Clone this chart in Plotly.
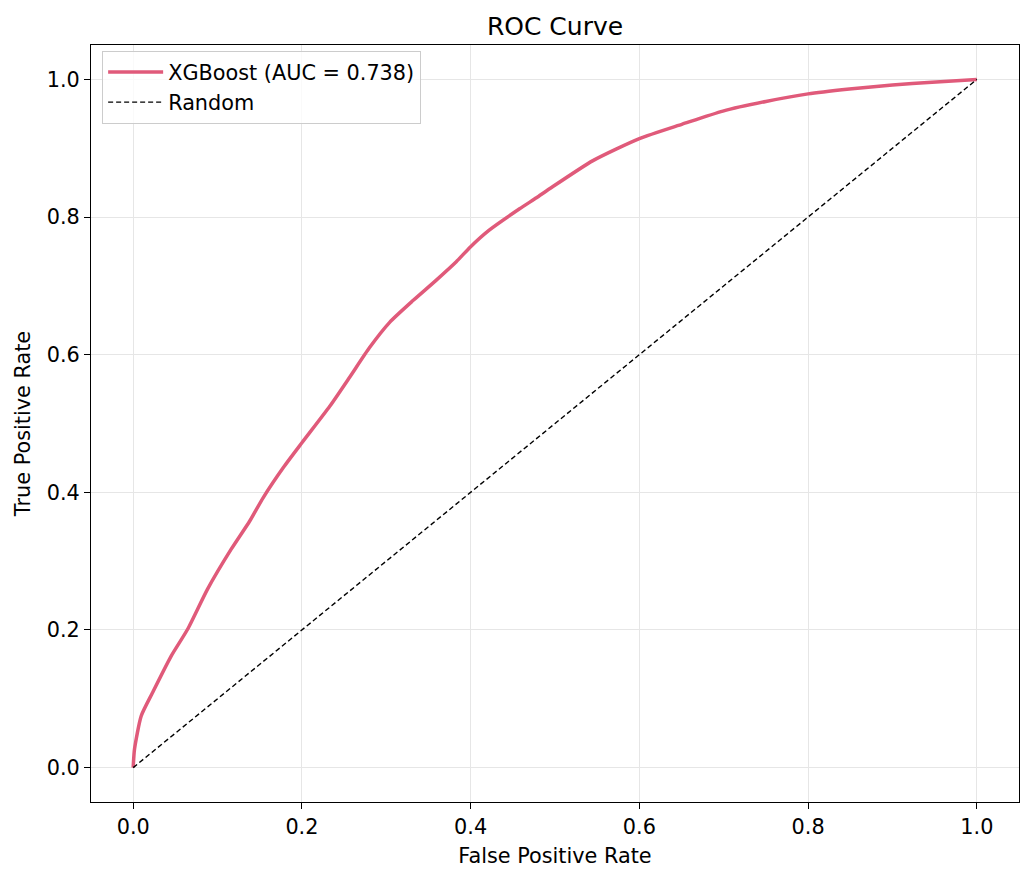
import plotly.graph_objects as go

# ROC curve points
fpr = [0.0, 0.0016, 0.0095, 0.023, 0.045, 0.0645, 0.088, 0.116, 0.138, 0.154, 0.178,
       0.2, 0.233, 0.257, 0.280, 0.304, 0.332, 0.359, 0.383, 0.4, 0.422, 0.458, 0.478,
       0.4935, 0.545, 0.6, 0.651, 0.699, 0.750, 0.8, 0.849, 0.9, 0.947, 1.0]
tpr = [0.0, 0.027, 0.075, 0.109, 0.162, 0.201, 0.259, 0.317, 0.358, 0.392, 0.436,
       0.472, 0.525, 0.568, 0.610, 0.647, 0.679, 0.708, 0.735, 0.757, 0.781, 0.812, 0.828,
       0.841, 0.882, 0.914, 0.935, 0.954, 0.968, 0.979, 0.986, 0.992, 0.996, 1.0]
random_x = [0.0, 1.0]
random_y = [0.0, 1.0]
auc_label = "XGBoost (AUC = 0.738)"
ticks = [0.0, 0.2, 0.4, 0.6, 0.8, 1.0]
tick_text = ["0.0", "0.2", "0.4", "0.6", "0.8", "1.0"]

fig = go.Figure()
fig.add_trace(go.Scatter(x=fpr, y=tpr, mode="lines", name=auc_label,
                         line=dict(color="#e05a7a", width=3.5, shape="spline", smoothing=0.6)))
fig.add_trace(go.Scatter(x=random_x, y=random_y, mode="lines", name="Random",
                         line=dict(color="black", width=1.4, dash="5px,3px")))

axis_common = dict(
    range=[-0.05, 1.05], tickvals=ticks, ticktext=tick_text,
    showgrid=True, gridcolor="#e6e6e6", gridwidth=1,
    zeroline=False, showline=True, linecolor="black", linewidth=1.2, mirror=True,
    ticks="outside", ticklen=6, tickwidth=1.2, tickcolor="black",
    tickfont=dict(size=20.8, color="black"), automargin=False,
)

fig.update_layout(
    width=1034, height=881,
    margin=dict(l=91, r=15, t=45, b=79),
    paper_bgcolor="white", plot_bgcolor="white",
    font=dict(family="DejaVu Sans", color="black"),
    title=dict(text="ROC Curve", x=(555 / 1034), xanchor="center", y=1 - 26 / 881, yanchor="middle",
               font=dict(size=25, color="black")),
    xaxis=dict(title=dict(text="False Positive Rate", font=dict(size=20.8), standoff=10), **axis_common),
    yaxis=dict(title=dict(text="True Positive Rate", font=dict(size=20.8), standoff=10), **axis_common),
    legend=dict(x=0.012, y=0.992, xanchor="left", yanchor="top", itemwidth=55,
                bgcolor="rgba(255,255,255,0.8)", bordercolor="#cccccc", borderwidth=1,
                font=dict(size=20.8, color="black")),
    showlegend=True,
)

fig.write_html("out.html")
